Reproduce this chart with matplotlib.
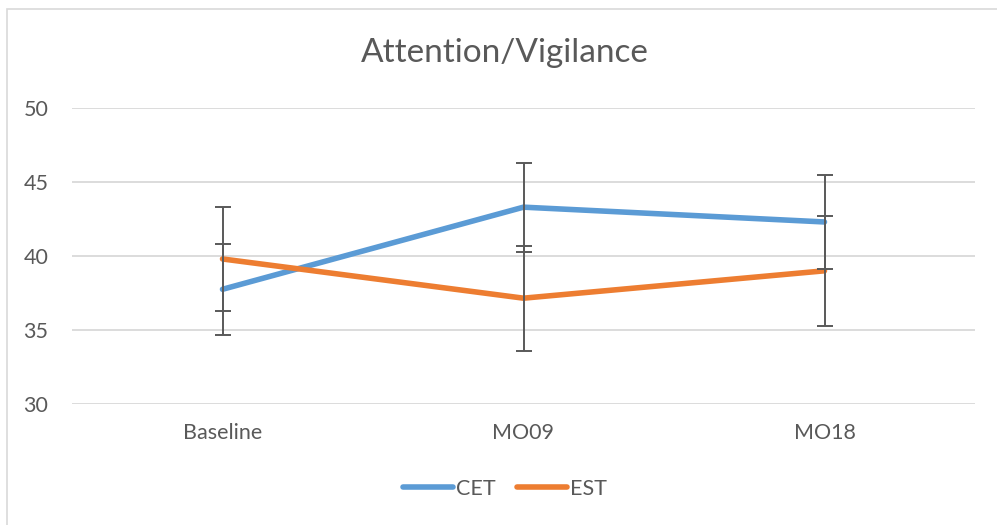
import matplotlib
matplotlib.use("Agg")
import matplotlib.pyplot as plt
from matplotlib.patches import Rectangle

categories = ["Baseline", "MO09", "MO18"]
cet = [37.75, 43.3, 42.3]
cet_err = [3.06, 3.0, 3.2]
est = [39.8, 37.15, 39.0]
est_err = [3.49, 3.55, 3.7]
yticks = [30, 35, 40, 45, 50]

plt.rcParams['font.family'] = ['Lato', 'DejaVu Sans']
txt = '#595959'

fig = plt.figure(figsize=(9.97, 5.25), dpi=100)
fig.patches.append(Rectangle((7/997, -0.05), 1.1, 1 - 9/525 + 0.05, transform=fig.transFigure,
                             fill=False, edgecolor='#D9D9D9', linewidth=1.2))
ax = fig.add_axes([72/997, 1 - 404/525, (975 - 72)/997, (404 - 108)/525])

x = list(range(len(categories)))
ax.plot(x, cet, color='#5B9BD5', linewidth=4.0, solid_capstyle='round', label='CET', zorder=3)
ax.plot(x, est, color='#ED7D31', linewidth=4.0, solid_capstyle='round', label='EST', zorder=3)
ax.errorbar(x, cet, yerr=cet_err, fmt='none', ecolor='#595959', elinewidth=1.4, capsize=5.5, capthick=1.4, zorder=4)
ax.errorbar(x, est, yerr=est_err, fmt='none', ecolor='#595959', elinewidth=1.4, capsize=5.5, capthick=1.4, zorder=4)

ax.set_xlim(-0.5, len(categories) - 0.5)
ax.set_ylim(30, 50)
ax.set_yticks(yticks)
ax.set_xticks(x)
ax.set_xticklabels(categories)
ax.grid(axis='y', color='#D9D9D9', linewidth=1.3)
ax.set_axisbelow(True)
for s in ax.spines.values():
    s.set_visible(False)
ax.tick_params(axis='both', length=0, colors=txt, labelsize=15.5)
ax.tick_params(axis='x', pad=14)
ax.tick_params(axis='y', pad=17)

fig.text(505/997, 1 - 53/525, "Attention/Vigilance", ha='center', va='center', fontsize=24, color=txt)
leg = fig.legend(loc='center', bbox_to_anchor=(505/997, 1 - 489/525), ncol=2, frameon=False,
                 fontsize=15.5, handlelength=2.3, columnspacing=1.0, handletextpad=0.15)
for t in leg.get_texts():
    t.set_color(txt)

fig.savefig("out.png", dpi=100)
